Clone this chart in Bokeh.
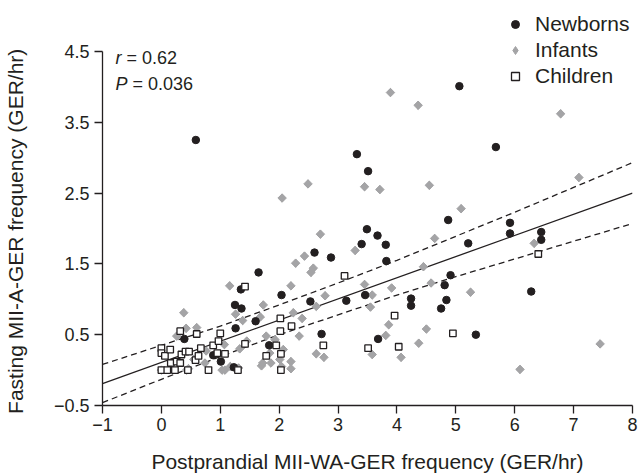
from bokeh.plotting import figure
from bokeh.models import Range1d, FixedTicker, Legend, LegendItem
from bokeh.embed import file_html
from bokeh.resources import INLINE
from bokeh.core.properties import value

# ---------------- data ----------------
newborn_x = [0.585, 0.39, 0.88, 1.01, 1.23, 1.25, 1.36, 1.35, 1.26, 1.65, 1.60, 1.83, 2.04,
             2.53, 2.60, 2.88, 2.72, 3.14, 3.32, 3.51, 3.40, 3.49, 3.46, 3.67, 3.81, 3.82,
             3.68, 4.24, 4.24, 4.75, 4.84, 4.81, 4.91, 4.87, 5.06, 5.21, 5.34, 5.68, 5.92,
             5.92, 6.28, 6.45, 6.45]
newborn_y = [3.25, 0.44, 0.21, 0.12, 0.04, 0.92, 0.87, 1.14, 0.59, 1.38, 0.69, 0.35, 1.06,
             0.97, 1.66, 1.59, 0.51, 0.98, 3.05, 2.81, 1.78, 1.99, 1.06, 1.90, 1.77, 1.54,
             0.44, 1.01, 0.91, 0.87, 0.99, 1.20, 1.34, 2.12, 4.01, 1.79, 0.50, 3.15, 2.08,
             1.93, 1.11, 1.95, 1.84]

infant_x = [0.38, 0.42, 0.60, 0.26, 0.00, 0.43, 0.46, 0.55, 0.74, 0.76, 1.07, 1.16, 1.26,
            1.38, 1.33, 1.45, 1.03, 1.08, 1.17, 1.31, 1.73, 1.68, 1.70, 1.72, 1.86, 1.78,
            1.84, 1.93, 2.05, 2.04, 2.01, 2.07, 2.20, 2.20, 2.20, 2.28, 2.24, 2.34, 2.39,
            2.43, 2.49, 2.54, 2.58, 2.63, 2.63, 2.70, 2.76, 2.78, 3.29, 3.45, 3.45, 3.55,
            3.58, 3.58, 3.71, 3.89, 3.81, 3.86, 3.91, 4.07, 4.36, 4.37, 4.45, 4.50, 4.55,
            4.58, 4.64, 5.09, 5.25, 6.09, 6.33, 6.78, 7.09, 7.45]
infant_y = [0.81, 0.59, 0.60, 0.48, 0.00, 0.00, 0.02, 0.15, 0.10, 0.27, 0.36, 1.19, 0.79,
            0.70, 0.30, 0.41, 0.00, 0.00, 0.05, 0.03, 0.92, 0.75, 0.06, 0.10, 0.10, 0.48,
            0.24, 0.43, 2.43, 0.05, 0.15, 0.29, 0.12, 0.02, 1.19, 1.51, 0.81, 0.48, 0.73,
            1.61, 2.63, 1.38, 1.44, 0.23, 0.90, 1.92, 0.18, 1.05, 1.69, 1.21, 2.59, 0.89,
            1.06, 0.22, 2.55, 3.92, 0.49, 0.64, 1.16, 0.18, 3.74, 0.38, 1.46, 0.58, 2.61,
            1.23, 1.86, 2.28, 1.10, 0.01, 1.79, 3.62, 2.72, 0.37]

child_x = [0.00, 0.00, 0.00, 0.06, 0.10, 0.15, 0.16, 0.23, 0.26, 0.32, 0.32, 0.34, 0.41,
           0.45, 0.47, 0.58, 0.60, 0.63, 0.67, 0.80, 0.88, 0.95, 0.97, 1.00, 1.08, 1.30,
           1.42, 1.42, 1.78, 1.95, 2.02, 2.02, 2.03, 2.03, 2.21, 2.75, 3.11, 3.51, 3.96,
           4.03, 4.95, 6.40]
child_y = [0.31, 0.24, 0.00, 0.20, 0.00, 0.29, 0.10, 0.00, 0.12, 0.55, 0.10, 0.22, 0.26,
           0.00, 0.26, 0.14, 0.51, 0.20, 0.31, 0.00, 0.35, 0.24, 0.41, 0.52, 0.23, 0.00,
           1.18, 0.37, 0.20, 0.35, 0.73, 0.55, 0.23, 0.00, 0.62, 0.35, 1.33, 0.31, 0.77,
           0.33, 0.52, 1.64]

# regression line and its confidence band
fit_x = [-1, 8]
fit_y = [-0.19, 2.50]
band_x = [-1, 0, 1, 2, 3, 4, 5, 6, 7, 8]
band_upper = [0.08, 0.35, 0.62, 0.92, 1.23, 1.55, 1.89, 2.23, 2.58, 2.93]
band_lower = [-0.46, -0.13, 0.19, 0.50, 0.78, 1.06, 1.32, 1.57, 1.82, 2.07]

series_names = ["Newborns", "Infants", "Children"]
x_ticks = [-1, 0, 1, 2, 3, 4, 5, 6, 7, 8]
y_ticks = [-0.5, 0.5, 1.5, 2.5, 3.5, 4.5]
x_title = "Postprandial MII-WA-GER frequency (GER/hr)"
y_title = "Fasting MII-A-GER frequency (GER/hr)"
stat_labels = [("r", "= 0.62"), ("P", "= 0.036")]

# ---------------- styling ----------------
INK = "#231f20"
GREY = "#a4a4a6"
FONT = "Liberation Sans"

# the frame also holds the legend area above 4.5, so the y title is nudged
# down (trailing no-break spaces) to sit centred on the -0.5..4.5 axis span
p = figure(width=638, height=475, output_backend="svg", toolbar_location=None,
           x_range=Range1d(-1, 8), y_range=Range1d(-0.5, 5.079),
           min_border_left=101, min_border_right=6, min_border_top=10, min_border_bottom=69,
           x_axis_label=x_title, y_axis_label=y_title + "\u00a0" * 8)
p.outline_line_color = None
p.xgrid.visible = False
p.ygrid.visible = False
p.background_fill_color = "white"
p.border_fill_color = "white"

p.xaxis.ticker = FixedTicker(ticks=x_ticks)
p.yaxis.ticker = FixedTicker(ticks=y_ticks)
p.xaxis.major_label_overrides = {t: (str(t).replace("-", "\u2212")) for t in x_ticks}
p.yaxis.major_label_overrides = {t: (str(t).replace("-", "\u2212")) for t in y_ticks}
p.yaxis.bounds = (-0.5, 4.5)

for ax in (p.xaxis[0], p.yaxis[0]):
    ax.axis_line_color = INK
    ax.axis_line_width = 1.3
    ax.major_tick_line_color = INK
    ax.major_tick_line_width = 1.3
    ax.major_tick_out = 8
    ax.major_tick_in = 0
    ax.minor_tick_line_color = None
    ax.major_label_text_font = FONT
    ax.major_label_text_font_size = "18px"
    ax.major_label_text_color = INK
    ax.axis_label_text_font = FONT
    ax.axis_label_text_font_size = "21px"
    ax.axis_label_text_font_style = "normal"
    ax.axis_label_text_color = INK
p.xaxis.major_label_standoff = 4
p.xaxis.axis_label_standoff = 16
p.yaxis.major_label_standoff = 5
p.yaxis.axis_label_standoff = 24

# lines
p.line(fit_x, fit_y, line_color=INK, line_width=1.3)
p.line(band_x, band_upper, line_color=INK, line_width=1.3, line_dash="6 4")
p.line(band_x, band_lower, line_color=INK, line_width=1.3, line_dash="6 4")

# points
r_inf_key = p.scatter(infant_x, infant_y, marker="diamond", size=8,
                      fill_color=GREY, line_color=GREY)
r_inf = p.scatter(infant_x, infant_y, marker="square", angle=0.785398, size=6,
                  fill_color=GREY, line_color=GREY)
r_nb = p.scatter(newborn_x, newborn_y, marker="circle", size=7.5,
                 fill_color=INK, line_color=INK)
r_ch = p.scatter(child_x, child_y, marker="square", size=6.5,
                 fill_color="white", line_color=INK, line_width=1.3)

legend = Legend(items=[LegendItem(label=series_names[0], renderers=[r_nb]),
                       LegendItem(label=series_names[1], renderers=[r_inf_key]),
                       LegendItem(label=series_names[2], renderers=[r_ch])],
                location=(403, 317), orientation="vertical",
                border_line_color=None, background_fill_alpha=0,
                glyph_width=20, glyph_height=20, label_standoff=10, spacing=2,
                padding=0, margin=0, label_height=20,
                label_text_font=FONT, label_text_font_size="21px", label_text_color=INK)
p.add_layout(legend, "center")

# r and P annotations
for (sym, rest), yy, off in zip(stat_labels, [4.403, 4.04], [11, 17]):
    p.text(x=[-0.78], y=[yy], text=[sym], text_font=value(FONT), text_font_size="18px",
           text_font_style="italic", text_baseline="middle", text_color=INK)
    p.text(x=[-0.78], y=[yy], text=[rest], text_font=value(FONT), text_font_size="18px",
           text_baseline="middle", text_color=INK, x_offset=off)

open("out.html", "w").write(file_html(p, INLINE))
